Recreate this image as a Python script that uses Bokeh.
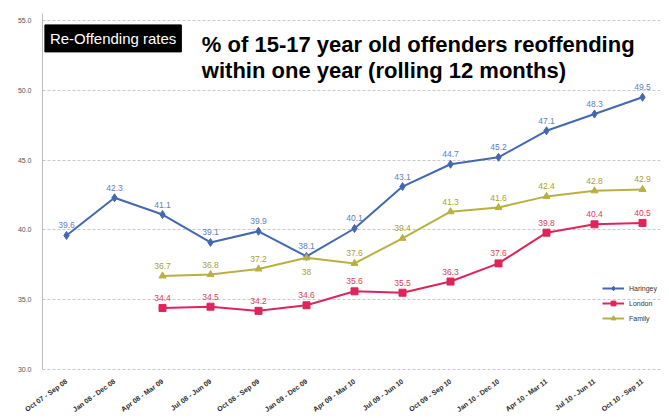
import math
from bokeh.plotting import figure
from bokeh.models import (ColumnDataSource, Range1d, FixedTicker, PrintfTickFormatter,
                          Label, Legend, LegendItem)
from bokeh.core.properties import value
from bokeh.embed import file_html
from bokeh.resources import INLINE

periods = ["Oct 07 - Sep 08", "Jan 08 - Dec 08", "Apr 08 - Mar 09", "Jul 08 - Jun 09",
           "Oct 08 - Sep 09", "Jan 09 - Dec 09", "Apr 09 - Mar 10", "Jul 09 - Jun 10",
           "Oct 09 - Sep 10", "Jan 10 - Dec 10", "Apr 10 - Mar 11", "Jul 10 - Jun 11",
           "Oct 10 - Sep 11"]
haringey = [39.6, 42.3, 41.1, 39.1, 39.9, 38.1, 40.1, 43.1, 44.7, 45.2, 47.1, 48.3, 49.5]
london = [None, None, 34.4, 34.5, 34.2, 34.6, 35.6, 35.5, 36.3, 37.6, 39.8, 40.4, 40.5]
family = [None, None, 36.7, 36.8, 37.2, 38.0, 37.6, 39.4, 41.3, 41.6, 42.4, 42.8, 42.9]
y_ticks = [30, 35, 40, 45, 50, 55]

BLUE = "#4468b0"
BLUE_T = "#5a80c6"
RED = "#e0245a"
RED_T = "#e33a5c"
OLIVE = "#b8b040"
OLIVE_T = "#a9a035"

p = figure(width=669, height=418, output_backend="svg", toolbar_location=None,
           x_range=Range1d(-0.5, 12.375), y_range=Range1d(30, 55.5),
           min_border_left=42, min_border_right=9, min_border_top=13, min_border_bottom=48)
p.outline_line_color = None
p.background_fill_color = "white"
p.border_fill_color = "white"

p.xgrid.visible = False
p.ygrid.ticker = FixedTicker(ticks=y_ticks)
p.ygrid.grid_line_color = "#c8c8c8"
p.ygrid.grid_line_dash = "3 2"

p.yaxis.ticker = FixedTicker(ticks=y_ticks)
p.yaxis.formatter = PrintfTickFormatter(format="%.1f")
p.yaxis.major_label_text_font_size = "7px"
p.yaxis.major_label_text_color = "#555555"
p.yaxis.major_label_text_font = "Liberation Sans"
p.yaxis.axis_line_color = "#bbbbbb"
p.yaxis.major_tick_line_color = None
p.yaxis.minor_tick_line_color = None

p.xaxis.ticker = FixedTicker(ticks=list(range(len(periods))))
p.xaxis.major_label_overrides = {i: s for i, s in enumerate(periods)}
p.xaxis.major_label_orientation = math.pi / 5
p.xaxis.major_label_text_font_size = "7px"
p.xaxis.major_label_text_font_style = "bold"
p.xaxis.major_label_text_color = "#2a2a2a"
p.xaxis.major_label_text_font = "Liberation Sans"
p.xaxis.axis_line_color = "#c8c8c8"
p.xaxis.axis_line_dash = "3 2"
p.xaxis.major_tick_line_color = None
p.xaxis.minor_tick_line_color = None

x_all = list(range(len(periods)))

def series(vals, color, tcolor, marker, size, label_off):
    xs = [x for x, v in zip(x_all, vals) if v is not None]
    ys = [v for v in vals if v is not None]
    txt = [("%g" % v) if abs(v - round(v)) < 1e-9 else "%.1f" % v for v in ys]
    src = ColumnDataSource(dict(x=xs, y=ys, t=txt, off=label_off[:len(xs)]))
    ln = p.line("x", "y", source=src, line_color=color, line_width=2)
    sc = p.scatter("x", "y", source=src, marker=marker, size=size,
                   fill_color=color, line_color=color)
    p.text("x", "y", text="t", source=src, y_offset="off", text_align="center",
           text_baseline="bottom", text_font_size="8.5px", text_font=value("Liberation Sans"),
           text_color=tcolor)
    return [ln, sc]

r_h = series(haringey, BLUE, BLUE_T, "diamond", 8, [-7] * 13)
r_l = series(london, RED, RED_T, "square", 7, [-7] * 11)
fam_off = [-7, -7, -7, 17, -7, -7, -7, -7, -7, -7, -7]
r_f = series(family, OLIVE, OLIVE_T, "triangle", 7, fam_off)

legend = Legend(items=[LegendItem(label="Haringey", renderers=r_h),
                       LegendItem(label="London", renderers=r_l),
                       LegendItem(label="Family", renderers=r_f)],
                location=(560, 45), label_text_font_size="7px",
                label_text_font="Liberation Sans", label_text_color="#333333",
                glyph_width=22, glyph_height=12, label_height=12, spacing=3,
                padding=2, border_line_color=None, background_fill_alpha=0)
p.add_layout(legend)

box = Label(x=-0.45, y=52.75, text="Re-Offending rates", text_color="white",
            text_font_size="15px", text_font="Liberation Sans",
            background_fill_color="black", border_line_color="black",
            padding=5)
p.add_layout(box)

title = Label(x=2.82, y=50.5, text="% of 15-17 year old offenders reoffending\nwithin one year (rolling 12 months)",
              text_color="black", text_font_size="22px", text_font_style="bold",
              text_font="Liberation Sans", text_line_height=1.05)
p.add_layout(title)

open("out.html", "w").write(file_html(p, INLINE))
